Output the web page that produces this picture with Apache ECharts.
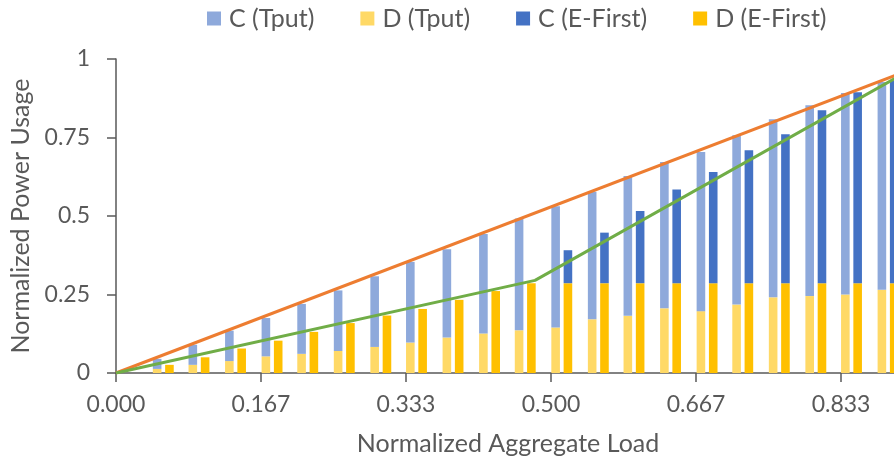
<!DOCTYPE html>
<html>
<head>
<meta charset="utf-8">
<script src="https://cdn.jsdelivr.net/npm/echarts@6/dist/echarts.min.js"></script>
<style>
html,body{margin:0;padding:0;background:#fff;}
#chart{width:894px;height:459px;}
</style>
</head>
<body>
<div id="chart"></div>
<script>
// ---- data ----
var loads = [0.042, 0.083, 0.125, 0.167, 0.208, 0.250, 0.292, 0.333, 0.375, 0.417, 0.458,
             0.500, 0.542, 0.583, 0.625, 0.667, 0.708, 0.750, 0.792, 0.833, 0.875];
var tputD = [0.013, 0.026, 0.038, 0.053, 0.061, 0.070, 0.083, 0.097, 0.113, 0.126, 0.136,
             0.145, 0.171, 0.182, 0.206, 0.197, 0.218, 0.241, 0.245, 0.250, 0.265];
var tputC = [0.032, 0.064, 0.097, 0.122, 0.159, 0.193, 0.225, 0.257, 0.281, 0.317, 0.356,
             0.386, 0.406, 0.445, 0.466, 0.507, 0.539, 0.567, 0.608, 0.642, 0.662];
var efD   = [0.026, 0.050, 0.078, 0.103, 0.131, 0.159, 0.183, 0.204, 0.233, 0.261, 0.286,
             0.286, 0.286, 0.286, 0.286, 0.286, 0.286, 0.286, 0.286, 0.286, 0.286];
var efC   = [0, 0, 0, 0, 0, 0, 0, 0, 0, 0, 0,
             0.105, 0.161, 0.230, 0.298, 0.354, 0.423, 0.474, 0.551, 0.608, 0.644];
var orangeX = [0, 0.945];
var orangeY = [0, 1];
var greenX  = [0, 0.4816, 0.935];
var greenY  = [0, 0.295, 1];
var xTicks = ['0.000', '0.167', '0.333', '0.500', '0.667', '0.833'];
var yTicks = ['0', '0.25', '0.5', '0.75', '1'];
var legendNames = ['C (Tput)', 'D (Tput)', 'C (E-First)', 'D (E-First)'];

// bar data as [value, load] so that the stack is computed on the value dimension
function barPairs(xs, ys) { return xs.map(function (x, i) { return [ys[i], x]; }); }
function pairs(xs, ys) { return xs.map(function (x, i) { return [x, ys[i]]; }); }

var FONT = 'Lato';
var GRAY = '#595959';
var XMAX = 0.9011;
var BAR_SHIFT = 0.01236;

var chart = echarts.init(document.getElementById('chart'), null, {renderer: 'canvas'});
var barCommon = { type: 'bar', xAxisIndex: 1, yAxisIndex: 0, barWidth: 8.6, barGap: '43%', encode: { x: 1, y: 0 } };

chart.setOption({
  animation: false,
  textStyle: { fontFamily: FONT },
  legend: {
    data: legendNames,
    left: 202, top: 1,
    itemWidth: 14, itemHeight: 14, itemGap: 46,
    icon: 'rect',
    textStyle: { fontFamily: FONT, fontSize: 25, color: GRAY, padding: [0, 0, 0, 3] }
  },
  grid: { left: 116, right: -6, top: 59, bottom: 86, containLabel: false, outerBoundsMode: 'none' },
  xAxis: [{
    type: 'value', min: 0, max: XMAX, interval: 1 / 6,
    name: 'Normalized Aggregate Load', nameLocation: 'middle', nameGap: 58,
    nameTextStyle: { fontFamily: FONT, fontSize: 25, color: GRAY },
    axisLine: { show: true, lineStyle: { color: GRAY, width: 1.5 } },
    axisTick: { show: true, length: 9, lineStyle: { color: GRAY, width: 1.5 } },
    axisLabel: {
      fontFamily: FONT, fontSize: 23, color: GRAY, margin: 20, showMaxLabel: false,
      formatter: function (v) { var i = Math.round(v * 6); return xTicks[i] !== undefined && Math.abs(v * 6 - i) < 1e-6 ? xTicks[i] : ''; }
    },
    splitLine: { show: false }
  }, {
    type: 'value', min: -BAR_SHIFT, max: XMAX - BAR_SHIFT, show: false
  }],
  yAxis: [{
    type: 'value', min: 0, max: 1, interval: 0.25,
    name: 'Normalized Power Usage', nameLocation: 'middle', nameGap: 81,
    nameTextStyle: { fontFamily: FONT, fontSize: 25, color: GRAY },
    axisLine: { show: true, lineStyle: { color: GRAY, width: 1.5 } },
    axisTick: { show: true, length: 9, lineStyle: { color: GRAY, width: 1.5 } },
    axisLabel: {
      fontFamily: FONT, fontSize: 23, color: GRAY, margin: 26,
      formatter: function (v) { return yTicks[Math.round(v * 4)]; }
    },
    splitLine: { show: false }
  }],
  series: [
    Object.assign({}, barCommon, { name: 'D (Tput)', stack: 'tput', data: barPairs(loads, tputD), itemStyle: { color: '#FFD966' } }),
    Object.assign({}, barCommon, { name: 'C (Tput)', stack: 'tput', data: barPairs(loads, tputC), itemStyle: { color: '#8EA9DB' } }),
    Object.assign({}, barCommon, { name: 'D (E-First)', stack: 'ef', data: barPairs(loads, efD), itemStyle: { color: '#FFC000' } }),
    Object.assign({}, barCommon, { name: 'C (E-First)', stack: 'ef', data: barPairs(loads, efC), itemStyle: { color: '#4472C4' } }),
    { type: 'line', name: 'orange', xAxisIndex: 0, data: pairs(orangeX, orangeY), showSymbol: false, symbol: 'none',
      lineStyle: { color: '#ED7D31', width: 3 }, z: 5 },
    { type: 'line', name: 'green', xAxisIndex: 0, data: pairs(greenX, greenY), showSymbol: false, symbol: 'none',
      lineStyle: { color: '#70AD47', width: 3 }, z: 5 }
  ]
});
</script>
</body>
</html>
